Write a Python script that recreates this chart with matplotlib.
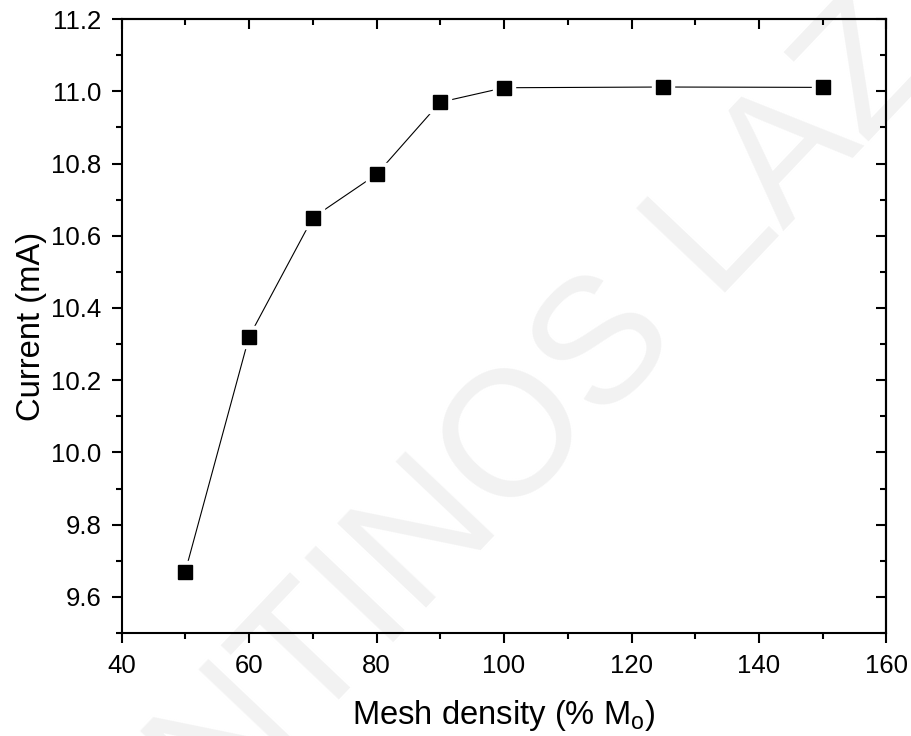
import matplotlib
matplotlib.use("Agg")
import matplotlib.pyplot as plt
from matplotlib.ticker import MultipleLocator

plt.rcParams['font.family'] = ['Liberation Sans', 'DejaVu Sans']
plt.rcParams['mathtext.fontset'] = 'custom'
plt.rcParams['mathtext.rm'] = 'Liberation Sans'
plt.rcParams['mathtext.it'] = 'Liberation Sans:italic'

# Mesh refinement study: current vs. mesh density
mesh_density = [50, 60, 70, 80, 90, 100, 125, 150]
current_mA = [9.67, 10.32, 10.65, 10.77, 10.97, 11.01, 11.012, 11.011]

x_ticks = [40, 60, 80, 100, 120, 140, 160]
y_ticks = [9.6, 9.8, 10.0, 10.2, 10.4, 10.6, 10.8, 11.0, 11.2]

fig = plt.figure(figsize=(9.11, 7.36), dpi=100)
ax = fig.add_axes([0.1334, 0.140, 0.8397, 0.834])
ax.patch.set_visible(False)

# faint diagonal watermark behind the plot
fig.text(0.6362, 0.3938, "NTINOS LAZ", rotation=46.5, fontsize=128,
         color='#f2f2f2', ha='center', va='baseline', zorder=-5,
         rotation_mode='anchor')

ax.plot(mesh_density, current_mA, color='black', lw=0.8, zorder=2)
# white halo leaves a small gap between the line and each marker
ax.plot(mesh_density, current_mA, ls='none', marker='s', ms=16,
        mfc='white', mec='white', zorder=3)
ax.plot(mesh_density, current_mA, ls='none', marker='s', ms=10,
        mfc='black', mec='black', zorder=4)

ax.set_xlim(40, 160)
ax.set_ylim(9.5, 11.2)
ax.set_xticks(x_ticks)
ax.set_yticks(y_ticks)
ax.set_xticklabels([str(v) for v in x_ticks])
ax.set_yticklabels([f"{v:.1f}" for v in y_ticks])
ax.xaxis.set_minor_locator(MultipleLocator(10))
ax.yaxis.set_minor_locator(MultipleLocator(0.1))

for s in ax.spines.values():
    s.set_linewidth(1.5)

ax.tick_params(which='both', direction='out', width=1.5, labelsize=18.5,
               top=False, right=False)
ax.tick_params(which='major', length=7.5)
ax.tick_params(which='minor', length=4)
ax.tick_params(axis='x', which='major', pad=8)
ax.tick_params(axis='y', which='major', pad=7)

# inward ticks on the opposite sides
top = ax.secondary_xaxis('top')
top.set_xticks(x_ticks)
top.xaxis.set_minor_locator(MultipleLocator(10))
top.tick_params(which='both', direction='in', width=1.5, labeltop=False)
top.tick_params(which='major', length=7.5)
top.tick_params(which='minor', length=4)
top.spines['top'].set_linewidth(1.5)

right = ax.secondary_yaxis('right')
right.set_yticks(y_ticks)
right.yaxis.set_minor_locator(MultipleLocator(0.1))
right.tick_params(which='both', direction='in', width=1.5, labelright=False)
right.tick_params(which='major', length=7.5)
right.tick_params(which='minor', length=4)
right.spines['right'].set_linewidth(1.5)

ax.set_xlabel(r"Mesh density (% M$_\mathregular{o}$)", fontsize=23.6, labelpad=14)
ax.set_ylabel("Current (mA)", fontsize=23.6, labelpad=3)

fig.savefig("out.png", dpi=100)
